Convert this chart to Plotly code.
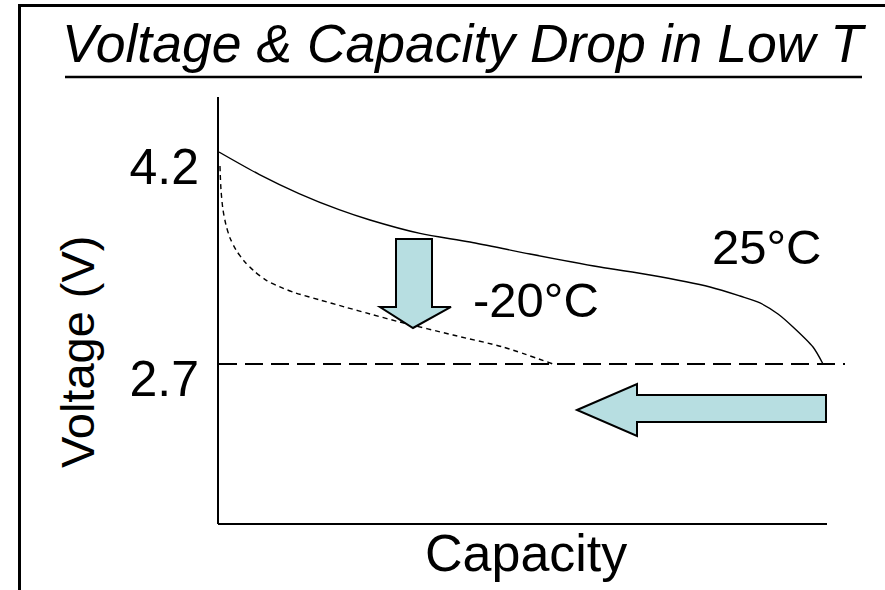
import plotly.graph_objects as go

# ---------------- data ----------------
# capacity in relative units (0 = origin of the capacity axis, 100 = end of the axis)
cap_25 = [0, 6.58, 13.16, 19.74, 24.84, 33.06, 41.28, 51.15, 62.66, 70.89, 80.76, 85.69, 88.98, 91.94, 94.41, 97.70, 99.34]
volt_25 = [4.2, 4.042, 3.906, 3.792, 3.719, 3.624, 3.563, 3.478, 3.386, 3.330, 3.245, 3.181, 3.132, 3.054, 2.962, 2.820, 2.7]

cap_m20 = [0.16, 0.33, 0.66, 1.15, 1.81, 2.80, 4.11, 5.76, 7.73, 10.03, 12.66, 16.61, 20.72, 24.84, 29.77, 38.49, 46.71, 54.93]
volt_m20 = [4.101, 3.931, 3.790, 3.684, 3.592, 3.507, 3.429, 3.358, 3.294, 3.245, 3.202, 3.153, 3.103, 3.054, 2.997, 2.905, 2.820, 2.7]

cutoff_cap = [0, 102.96]
cutoff_volt = [2.7, 2.7]

tick_vals = [4.2, 2.7]
tick_text = ["4.2", "2.7"]

title_text = "Voltage & Capacity Drop in Low T"
x_title = "Capacity"
y_title = "Voltage (V)"
label_25 = "25°C"
label_m20 = "-20°C"

# ---------------- geometry helpers ----------------
W, H = 885, 590
L, R, T, B = 219, 0, 97, 66
PW = W - L - R
PH = H - T - B


def PX(px):
    return (px - L) / PW


def PY(py):
    return (H - B - py) / PH


def px2x(px):
    return (px - 219) / 6.08


def py2v(py):
    return 4.2 - (py - 152) / 141.333


FONT = "Liberation Sans, Arial, sans-serif"
ARROW_FILL = "#B7DEE1"

fig = go.Figure()

fig.add_trace(go.Scatter(x=cutoff_cap, y=cutoff_volt, mode="lines",
                         line=dict(color="black", width=2, dash="18px,8px"),
                         hoverinfo="skip", showlegend=False))
fig.add_trace(go.Scatter(x=cap_25, y=volt_25, mode="lines",
                         line=dict(color="black", width=1.4, shape="spline", smoothing=0.8),
                         showlegend=False))
fig.add_trace(go.Scatter(x=cap_m20, y=volt_m20, mode="lines",
                         line=dict(color="black", width=1.4, shape="spline", smoothing=0.8,
                                   dash="5px,4px"),
                         showlegend=False))

shapes = []
# x-axis line (ends before the plot edge)
shapes.append(dict(type="line", xref="paper", yref="paper", x0=PX(218), x1=PX(827),
                   y0=PY(524), y1=PY(524), line=dict(color="black", width=2)))
# outer frame (left and top edges)
shapes.append(dict(type="line", xref="paper", yref="paper", x0=PX(19.5), x1=PX(19.5),
                   y0=PY(4), y1=PY(600), line=dict(color="black", width=3)))
shapes.append(dict(type="line", xref="paper", yref="paper", x0=PX(18), x1=PX(900),
                   y0=PY(5.5), y1=PY(5.5), line=dict(color="black", width=3)))
# title underline
shapes.append(dict(type="line", xref="paper", yref="paper", x0=PX(65), x1=PX(862),
                   y0=PY(77), y1=PY(77), line=dict(color="black", width=2.5)))


def path(points):
    return "M " + " L ".join(f"{PX(a):.5f},{PY(b):.5f}" for a, b in points) + " Z"


down_arrow = [(396, 239), (432, 239), (432, 307), (451, 307), (413, 328), (380, 307), (396, 307)]
left_arrow = [(577, 410), (637, 384), (637, 395), (826, 395), (826, 422), (637, 422), (637, 436)]
for pts in (down_arrow, left_arrow):
    shapes.append(dict(type="path", xref="paper", yref="paper", path=path(pts),
                       fillcolor=ARROW_FILL, line=dict(color="black", width=2), layer="above"))

annotations = [
    dict(text=title_text, xref="paper", yref="paper", x=PX(464), y=PY(43),
         xanchor="center", yanchor="middle", showarrow=False,
         font=dict(family=FONT, size=53.5, color="black", style="italic")),
    dict(text=x_title, xref="paper", yref="paper", x=PX(526), y=PY(553),
         xanchor="center", yanchor="middle", showarrow=False,
         font=dict(family=FONT, size=52, color="black")),
    dict(text=y_title, xref="paper", yref="paper", x=PX(77), y=PY(352),
         xanchor="center", yanchor="middle", showarrow=False, textangle=-90,
         font=dict(family=FONT, size=47, color="black")),
    dict(text=label_25, xref="x", yref="y", x=px2x(766), y=py2v(247),
         xanchor="center", yanchor="middle", showarrow=False,
         font=dict(family=FONT, size=49, color="black")),
    dict(text=label_m20, xref="x", yref="y", x=px2x(536), y=py2v(300),
         xanchor="center", yanchor="middle", showarrow=False,
         font=dict(family=FONT, size=49, color="black")),
]

fig.update_layout(
    width=W, height=H,
    margin=dict(l=L, r=R, t=T, b=B, pad=0),
    paper_bgcolor="white", plot_bgcolor="white",
    shapes=shapes, annotations=annotations,
    showlegend=False,
    xaxis=dict(range=[0, px2x(885)], showgrid=False, zeroline=False, showline=False,
               showticklabels=False, ticks="", fixedrange=True),
    yaxis=dict(range=[py2v(524), py2v(97)], showgrid=False, zeroline=False,
               showline=True, linecolor="black", linewidth=2,
               tickmode="array", tickvals=tick_vals, ticktext=tick_text,
               ticks="", ticklabelstandoff=8, ticklabelshift=14,
               tickfont=dict(family=FONT, size=50, color="black"), fixedrange=True),
)

fig.write_html("out.html", config={"displayModeBar": False},
               post_script="document.body.style.margin='0';document.body.style.overflow='hidden';")
